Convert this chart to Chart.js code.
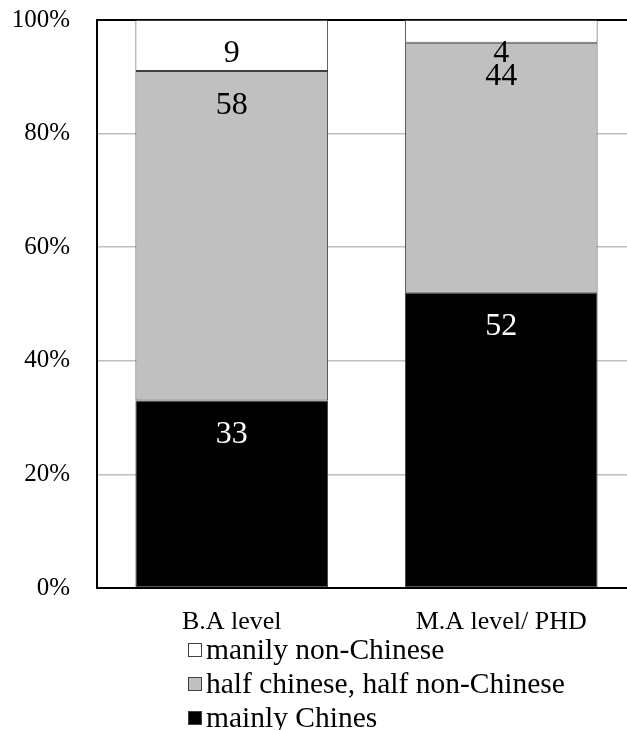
<!DOCTYPE html>
<html>
<head>
<meta charset="utf-8">
<script src="https://cdn.jsdelivr.net/npm/chart.js@4.4.1/dist/chart.umd.min.js"></script>
<style>
  html, body { margin: 0; padding: 0; background: #fff; overflow: hidden; }
  #wrap { width: 627px; height: 730px; overflow: hidden; }
  canvas { display: block; }
</style>
</head>
<body>
<div id="wrap"><canvas id="c" width="640" height="730"></canvas></div>
<script>
// Degree levels on the x axis
const categories = ['B.A level', 'M.A level/ PHD'];

// Share of respondents (percent) per answer, stacked bottom to top
const mainlyChinese = [33, 52];
const halfHalf = [58, 44];
const mainlyNonChinese = [9, 4];

const seriesNames = ['mainly Chines', 'half chinese, half non-Chinese', 'manily non-Chinese'];
const seriesColors = ['#000000', '#c0c0c0', '#ffffff'];
const labelColors = ['#ffffff', '#000000', '#000000'];

const yTicks = [0, 20, 40, 60, 80, 100];

const SERIF = "'Liberation Serif', 'Times New Roman', serif";

// Value labels drawn just inside the top of each segment
const valueLabels = {
  id: 'valueLabels',
  afterDatasetsDraw(chart) {
    const ctx = chart.ctx;
    ctx.save();
    ctx.font = '32px ' + SERIF;
    ctx.textAlign = 'center';
    ctx.textBaseline = 'middle';
    chart.data.datasets.forEach((ds, i) => {
      const meta = chart.getDatasetMeta(i);
      meta.data.forEach((el, j) => {
        ctx.fillStyle = labelColors[i];
        ctx.fillText(String(ds.data[j]), el.x, el.y + 34);
      });
    });
    ctx.restore();
  }
};

// Vertical legend under the category labels, listed top-down in stack order
const stackLegend = {
  id: 'stackLegend',
  afterDraw(chart) {
    const ctx = chart.ctx;
    const x0 = 188, box = 14, rowY = [650, 684, 718];
    ctx.save();
    ctx.font = '29.5px ' + SERIF;
    ctx.textBaseline = 'middle';
    ctx.textAlign = 'left';
    const order = chart.data.datasets.map((d, i) => i).reverse();
    order.forEach((dsIndex, row) => {
      const ds = chart.data.datasets[dsIndex];
      const y = rowY[row];
      ctx.fillStyle = ds.backgroundColor;
      ctx.fillRect(x0, y - box / 2, box, box);
      ctx.strokeStyle = '#404040';
      ctx.lineWidth = 1;
      ctx.strokeRect(x0 + 0.5, y - box / 2 + 0.5, box - 1, box - 1);
      ctx.fillStyle = '#000';
      ctx.fillText(ds.label, x0 + box + 4, y + 1);
    });
    ctx.restore();
  }
};

const datasets = [mainlyChinese, halfHalf, mainlyNonChinese].map((vals, i) => ({
  label: seriesNames[i],
  data: vals,
  backgroundColor: seriesColors[i],
  borderColor: '#404040',
  borderWidth: 1,
  borderSkipped: false,
  barPercentage: 0.715,
  categoryPercentage: 1
}));

new Chart(document.getElementById('c'), {
  type: 'bar',
  data: { labels: categories, datasets },
  options: {
    responsive: false,
    devicePixelRatio: 1,
    animation: false,
    layout: { padding: { top: 0, right: 4, left: 0, bottom: 0 } },
    plugins: { legend: { display: false }, tooltip: { enabled: false } },
    scales: {
      x: {
        stacked: true,
        grid: { display: false },
        border: { display: true, color: '#000', width: 2 },
        ticks: { color: '#000', font: { family: SERIF, size: 26 }, padding: 11 },
        afterFit(scale) { scale.height = 142; }
      },
      y: {
        stacked: true,
        min: 0,
        max: 100,
        afterBuildTicks(scale) { scale.ticks = yTicks.map(v => ({ value: v })); },
        ticks: {
          color: '#000',
          font: { family: SERIF, size: 25 },
          padding: 27,
          callback: v => v + '%'
        },
        grid: {
          drawTicks: false,
          color: c => (c.tick && c.tick.value === 100) ? '#000' : (c.tick && c.tick.value === 0 ? 'rgba(0,0,0,0)' : '#bfbfbf'),
          lineWidth: c => (c.tick && c.tick.value === 100) ? 2 : 1.5
        },
        border: { display: true, color: '#000', width: 2 },
        afterFit(scale) {
          scale.width = 97;
          scale.paddingTop = 20;
          scale.paddingBottom = 0;
        }
      }
    }
  },
  plugins: [valueLabels, stackLegend]
});
</script>
</body>
</html>
